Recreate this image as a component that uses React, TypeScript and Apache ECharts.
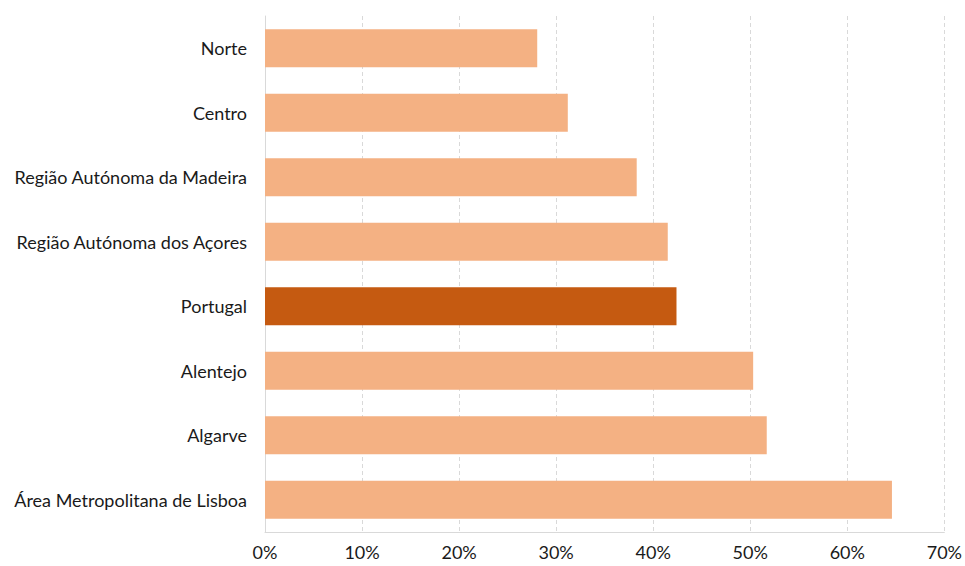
import React, { useEffect, useRef } from "react";
import * as echarts from "echarts";

const categories = [
  "Norte",
  "Centro",
  "Região Autónoma da Madeira",
  "Região Autónoma dos Açores",
  "Portugal",
  "Alentejo",
  "Algarve",
  "Área Metropolitana de Lisboa",
];
const values = [28.05, 31.2, 38.3, 41.5, 42.4, 50.3, 51.7, 64.6];
const highlight = "Portugal";
const xTicks = [0, 10, 20, 30, 40, 50, 60, 70];

const LIGHT = "#F4B183";
const DARK = "#C55A11";
const FONT = "Lato";

export default function App() {
  const ref = useRef<HTMLDivElement>(null);
  useEffect(() => {
    if (!ref.current) return;
    const chart = echarts.init(ref.current, null, { renderer: "svg" });
    chart.setOption({
      animation: false,
      grid: { left: 265, right: 17, top: 16, bottom: 34, containLabel: false },
      xAxis: {
        type: "value",
        min: xTicks[0],
        max: xTicks[xTicks.length - 1],
        interval: 10,
        axisLine: { show: true, lineStyle: { color: "#d9d9d9", width: 1 } },
        axisTick: { show: false },
        splitLine: { show: true, lineStyle: { color: "#d9d9d9", type: [4, 3], width: 1 } },
        axisLabel: {
          formatter: (v: number) => `${v}%`,
          color: "#1a1a1a",
          fontFamily: FONT,
          fontSize: 18,
          margin: 11,
        },
      },
      yAxis: {
        type: "category",
        inverse: true,
        data: categories,
        axisLine: { show: true, lineStyle: { color: "#d9d9d9", width: 1 } },
        axisTick: { show: false },
        axisLabel: {
          color: "#1a1a1a",
          fontFamily: FONT,
          fontSize: 18,
          margin: 18,
        },
      },
      series: [
        {
          type: "bar",
          barWidth: 38,
          data: values.map((v, i) => ({
            value: v,
            itemStyle: { color: categories[i] === highlight ? DARK : LIGHT },
          })),
        },
      ],
    });
    return () => chart.dispose();
  }, []);
  return <div ref={ref} style={{ width: 965, height: 566, position: "absolute", left: 0, top: 0 }} />;
}
